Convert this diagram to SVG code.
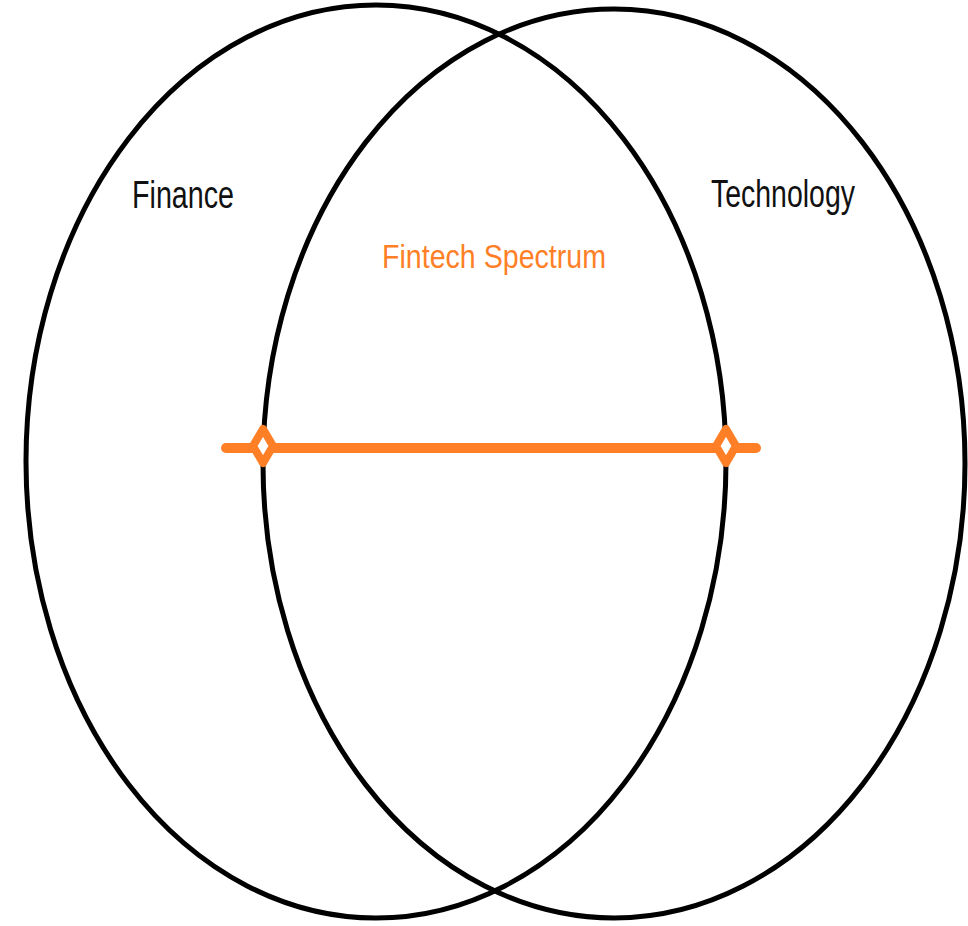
<svg xmlns="http://www.w3.org/2000/svg" width="968" height="926" viewBox="0 0 968 926">
<style>
.set{fill:none;stroke:#000;stroke-width:5}
.lbl{font-family:"Liberation Sans",Arial,sans-serif;fill:#111}
.or{font-family:"Liberation Sans",Arial,sans-serif;fill:#FF7F27}
.spec{stroke:#FF7F27;stroke-width:10;stroke-linecap:round;fill:none}
.dia{fill:#fff;stroke:#FF7F27;stroke-width:8;stroke-linejoin:round}
</style>
<rect width="968" height="926" fill="#fff"/>
<g id="finance">
<ellipse class="set" cx="376" cy="461.5" rx="350" ry="456.5"/>
<text class="lbl" x="132" y="208" font-size="38" textLength="102" lengthAdjust="spacingAndGlyphs">Finance</text>
</g>
<g id="technology">
<ellipse class="set" cx="614" cy="463.5" rx="351" ry="454.5"/>
<text class="lbl" x="711" y="207" font-size="38" textLength="144" lengthAdjust="spacingAndGlyphs">Technology</text>
</g>
<g id="fintech">
<text class="or" x="382" y="268" font-size="34" textLength="224" lengthAdjust="spacingAndGlyphs">Fintech Spectrum</text>
</g>
<g id="connectors">
<line class="spec" x1="226" y1="448" x2="756" y2="448"/>
<path class="dia" d="M263 429 L273 446 L263 463 L253 446 Z"/>
<path class="dia" d="M726 429 L736 446 L726 463 L716 446 Z"/>
</g>
</svg>
